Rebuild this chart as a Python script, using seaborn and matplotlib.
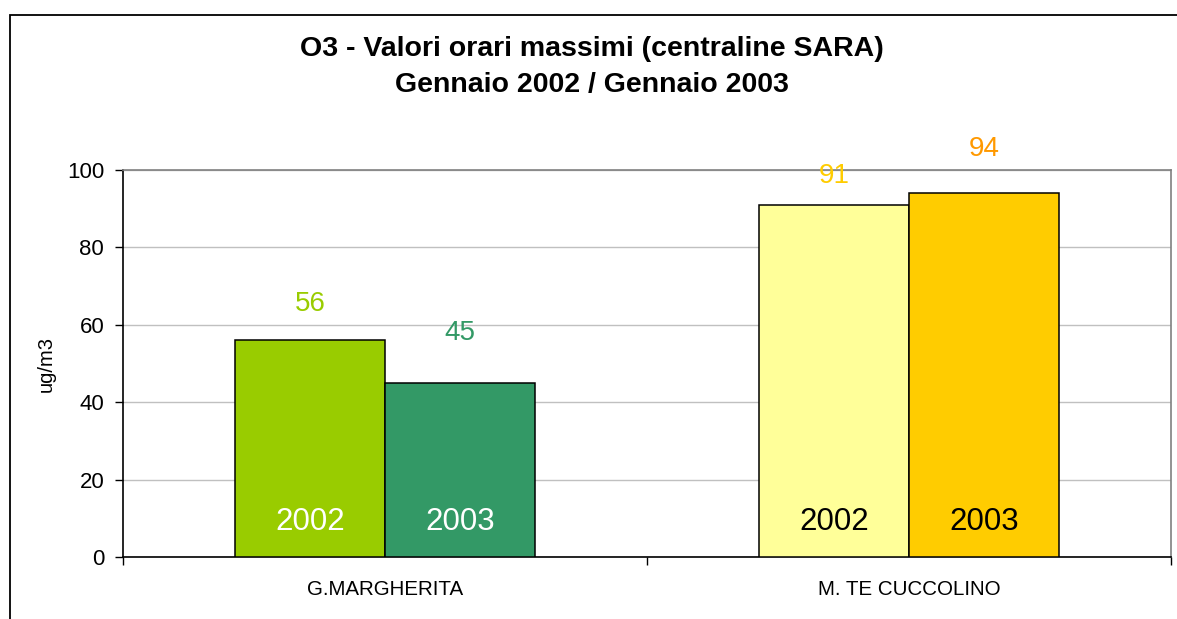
import matplotlib
matplotlib.use("Agg")
import matplotlib.pyplot as plt
import matplotlib.patches as mpatches
import seaborn as sns
import pandas as pd

stations = ["G.MARGHERITA", "M. TE CUCCOLINO"]
years = ["2002", "2003"]
values_2002 = [56, 91]
values_2003 = [45, 94]
bar_colors = {"2002": ["#99CC00", "#FFFF99"], "2003": ["#339966", "#FFCC00"]}
value_label_colors = {"2002": ["#99CC00", "#FFCC00"], "2003": ["#339966", "#FF9900"]}
year_label_colors = {"2002": ["white", "black"], "2003": ["white", "black"]}
title = "O3 - Valori orari massimi (centraline SARA)\nGennaio 2002 / Gennaio 2003"
ylabel = "ug/m3"
yticks = [0, 20, 40, 60, 80, 100]

df = pd.DataFrame({
    "station": stations * 2,
    "year": [years[0]] * 2 + [years[1]] * 2,
    "value": values_2002 + values_2003,
})

sns.set_theme(style="white")
plt.rcParams["font.family"] = ["Liberation Sans", "DejaVu Sans"]
plt.rcParams["text.color"] = "black"
plt.rcParams["axes.labelcolor"] = "black"
plt.rcParams["xtick.color"] = "black"
plt.rcParams["ytick.color"] = "black"

fig = plt.figure(figsize=(11.77, 6.19), dpi=100)
ax = fig.add_axes([123 / 1177, 1 - 557 / 619, (1171 - 123) / 1177, (557 - 170) / 619])

sns.barplot(data=df, x="station", y="value", hue="year", order=stations,
            hue_order=years, width=0.572, gap=0, ax=ax, legend=False,
            edgecolor="black", linewidth=1.1, saturation=1, zorder=3)

# label offsets above bar tops (points)
value_offsets = {"2002": [26, 20.5], "2003": [36, 31.5]}
for yr, cont in zip(years, ax.containers):
    for i, bar in enumerate(cont):
        bar.set_facecolor(bar_colors[yr][i])
        cx = bar.get_x() + bar.get_width() / 2
        h = bar.get_height()
        ax.annotate(str(int(h)), (cx, h), xytext=(0, value_offsets[yr][i]),
                    textcoords="offset points", ha="center", va="center",
                    fontsize=20, color=value_label_colors[yr][i])
        ax.text(cx, 9.0, yr, ha="center", va="center", fontsize=22.5,
                color=year_label_colors[yr][i], zorder=5)

ax.set_ylim(0, 100)
ax.set_xlim(-0.5, 1.5)
ax.set_yticks(yticks)
ax.set_yticklabels([str(t) for t in yticks], fontsize=16)
ax.set_xticks([0, 1])
ax.set_xticklabels(stations, fontsize=14.8)
ax.tick_params(axis="x", length=0, pad=16.5)
ax.tick_params(axis="y", length=6, width=1, direction="out", left=True, pad=7.5)
ax.set_xticks([-0.5, 0.5, 1.5], minor=True)
ax.tick_params(axis="x", which="minor", length=5.5, width=1, direction="out", bottom=True)
ax.set_xlabel("")
ax.set_ylabel(ylabel, fontsize=14.5, labelpad=8)
ax.yaxis.grid(True, color="#C0C0C0", linewidth=1)
ax.set_axisbelow(True)

for side in ["left", "bottom"]:
    ax.spines[side].set_color("black")
    ax.spines[side].set_linewidth(1.2)
for side in ["top", "right"]:
    ax.spines[side].set_color("#808080")
    ax.spines[side].set_linewidth(1.2)
    ax.spines[side].set_visible(True)

fig.text(592 / 1177, 1 - 67 / 619, title, ha="center", va="center",
         fontsize=20.5, fontweight="bold", linespacing=1.5)

frame = mpatches.Rectangle((10 / 1177, -0.2), 1.5, 0.2 + (1 - 15 / 619),
                           transform=fig.transFigure, fill=False,
                           edgecolor="black", linewidth=1.3, clip_on=False)
fig.patches.append(frame)

fig.savefig("out.png", dpi=100, facecolor="white")
